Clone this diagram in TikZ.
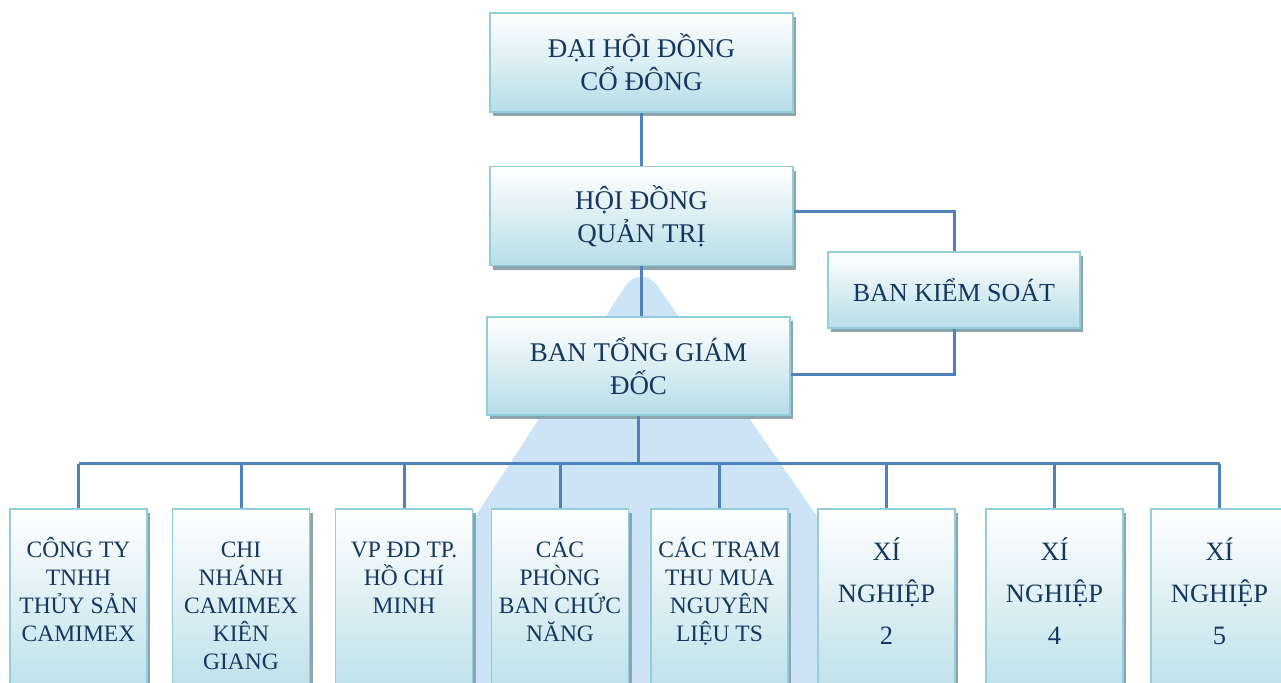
\documentclass[tikz,border=0pt]{standalone}
\usepackage{fontspec}
\setmainfont{Liberation Serif}
\usepackage{tikz}
\usetikzlibrary{positioning, shadows}
\definecolor{boxline}{RGB}{146,205,220}
\definecolor{boxfill}{RGB}{183,221,232}
\definecolor{boxshade}{RGB}{140,165,175}
\definecolor{navy}{RGB}{23,54,93}
\definecolor{linkblue}{RGB}{79,129,189}
\definecolor{wmblue}{RGB}{205,228,247}

\begin{document}
\begin{tikzpicture}[x=1pt, y=-1pt,
    box/.style={draw=boxline, line width=1.5pt, top color=white, bottom color=boxfill, rectangle, text=navy,
        drop shadow={shadow xshift=3pt, shadow yshift=-4pt, fill=boxshade, opacity=1}},
    head/.style={box, minimum width=303pt, minimum height=99pt, align=center, font=\fontsize{27}{33}\selectfont},
    unit/.style={box, anchor=north, inner sep=0pt,
        execute at begin node={\begin{minipage}[t][200pt][t]{137pt}\centering\rule{0pt}{#1}},
        execute at end node={\end{minipage}}},
    link/.style={draw=linkblue, line width=3pt}
]
\useasboundingbox (0,0) rectangle (1281,682);
\clip (0,0) rectangle (1281,682);
% watermark
\fill[wmblue, rounded corners=30pt] (641,262) -- (343,720) -- (958,720) -- cycle;

\node[head] (dhcd) at (641.5,62.5) {ĐẠI HỘI ĐỒNG\\CỔ ĐÔNG};
\node[head, below=53pt of dhcd] (hdqt) {HỘI ĐỒNG\\QUẢN TRỊ};
\node[head, below=50pt of hdqt, xshift=-3pt, minimum height=98pt] (btgd) {BAN TỔNG GIÁM\\ĐỐC};
\node[box, minimum width=252pt, minimum height=76pt, font=\fontsize{26}{31}\selectfont] (bks) at (954,290) {BAN KIỂM SOÁT};

% don vi truc thuoc
\node[unit=49pt, font=\fontsize{23.5}{28}\selectfont] (cty) at (78.5,508) {CÔNG TY\\TNHH\\THỦY SẢN\\CAMIMEX};
\node[unit=49pt, font=\fontsize{23.5}{28}\selectfont] (cn) at (241,508) {CHI\\NHÁNH\\CAMIMEX\\KIÊN\\GIANG};
\node[unit=49pt, font=\fontsize{23.5}{28}\selectfont] (vp) at (404,508) {VP ĐD TP.\\HỒ CHÍ\\MINH};
\node[unit=49pt, font=\fontsize{23.5}{28}\selectfont] (pb) at (560,508) {CÁC\\PHÒNG\\BAN CHỨC\\NĂNG};
\node[unit=49pt, font=\fontsize{23.5}{28}\selectfont] (tram) at (719.5,508) {CÁC TRẠM\\THU MUA\\NGUYÊN\\LIỆU TS};
\node[unit=52pt, font=\fontsize{26.5}{42}\selectfont] (xn2) at (886.5,508) {XÍ\\NGHIỆP\\2};
\node[unit=52pt, font=\fontsize{26.5}{42}\selectfont] (xn4) at (1054.5,508) {XÍ\\NGHIỆP\\4};
\node[unit=52pt, font=\fontsize{26.5}{42}\selectfont] (xn5) at (1219.5,508) {XÍ\\NGHIỆP\\5};

\draw[link] (dhcd) -- (hdqt);
\draw[link] (hdqt.south) -- (hdqt.south |- btgd.north);
\draw[link] ([yshift=5pt]hdqt.east) -| (bks.north);
\draw[link] (bks.south) |- ([yshift=-8pt]btgd.east);
\draw[link] (btgd.south) -- ++(0,48) coordinate (bus);
\draw[link] (bus -| cty.north) -- (bus -| xn5.north);
\foreach \u in {cty,cn,vp,pb,tram,xn2,xn4,xn5}
    \draw[link] (bus -| \u.north) -- (\u.north);
\end{tikzpicture}
\end{document}
